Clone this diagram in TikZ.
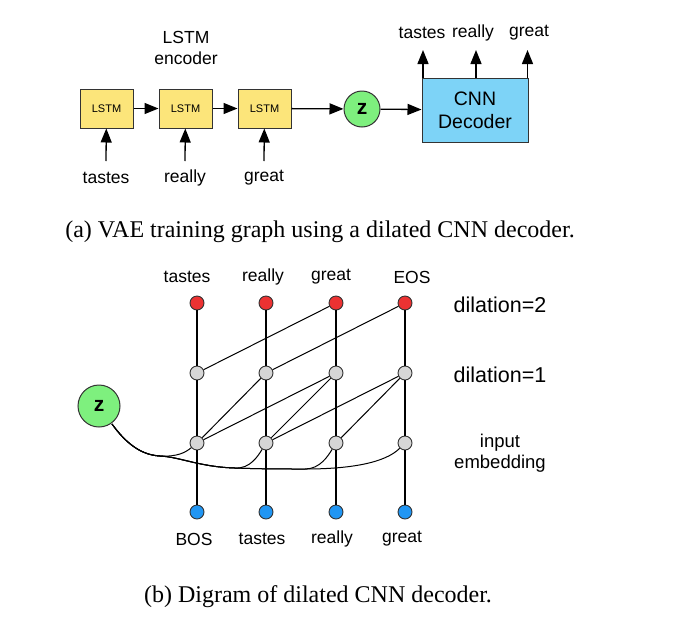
\documentclass[tikz,border=0pt]{standalone}
\usepackage{fontspec}
\setmainfont{Liberation Sans}
\newfontfamily\capfont{Liberation Serif}
\usetikzlibrary{arrows.meta}
\definecolor{lstmyellow}{HTML}{FCE57A}
\definecolor{cnnblue}{HTML}{7DD3F7}
\definecolor{zgreen}{HTML}{7EF07E}
\definecolor{tokred}{HTML}{EC3232}
\definecolor{tokblue}{HTML}{2196F3}
\definecolor{hidgray}{HTML}{D6D6D6}
\begin{document}
\begin{tikzpicture}[x=1pt,y=-1pt,
  lstmbox/.style={draw=black!80,line width=1pt,fill=lstmyellow,minimum width=53pt,minimum height=39pt,inner sep=0pt,font=\fontsize{11}{12}\selectfont},
  cnnbox/.style={draw=black!80,line width=1pt,fill=cnnblue,minimum width=106pt,minimum height=64pt,inner sep=0pt,align=center,font=\fontsize{19.5}{23}\selectfont},
  zcirc/.style={circle,draw=black!80,line width=1pt,fill=zgreen,inner sep=0pt,font=\fontsize{21}{22}\selectfont\bfseries},
  word/.style={inner sep=0pt,font=\fontsize{17.5}{20}\selectfont},
  redtok/.style={circle,draw=black!80,line width=0.9pt,fill=tokred,minimum size=14pt,inner sep=0pt},
  bluetok/.style={circle,draw=black!80,line width=0.9pt,fill=tokblue,minimum size=14pt,inner sep=0pt},
  hidnode/.style={circle,draw=black!80,line width=0.9pt,fill=hidgray,minimum size=14pt,inner sep=0pt},
  arr/.style={-{Triangle[length=14pt,width=11pt]},line width=1.3pt},
  col/.style={line width=1.7pt},
  thin/.style={line width=1pt},
  caption/.style={inner sep=0pt,font=\capfont\fontsize{24}{28}\selectfont}]
\useasboundingbox (0,0) rectangle (676,624);
% ---- (a) ----
\node[word,align=center,font=\fontsize{17.5}{21}\selectfont] (enc) at (186,48) {LSTM\\encoder};
\node[lstmbox] (l1) at (106.5,108.5) {LSTM};
\node[lstmbox] (l2) at (185.5,108.5) {LSTM};
\node[lstmbox] (l3) at (264.5,108.5) {LSTM};
\node[zcirc,minimum size=36pt] (za) at (362,109) {z};
\node[cnnbox] (cnn) at (475,110) {CNN\\Decoder};
\node[word] (i1) at (106,178) {tastes};
\node[word] (i2) at (185,178) {really};
\node[word] (i3) at (264,178) {great};
\coordinate (i1t) at (106,161);
\coordinate (i2t) at (185,161);
\coordinate (i3t) at (264,161);
\draw[arr] (i1t) -- (l1);
\draw[arr] (i2t) -- (l2);
\draw[arr] (i3t) -- (l3);
\draw[arr] (l1) -- (l2);
\draw[arr] (l2) -- (l3);
\draw[arr] (l3) -- (za);
\draw[arr] (za) -- (cnn);
\node[word] (o1) at (422,33) {tastes};
\node[word] (o2) at (473,33) {really};
\node[word] (o3) at (529,33) {great};
\coordinate (c1) at (423,78);
\coordinate (c2) at (476,78);
\coordinate (c3) at (527.5,78);
\coordinate (e1) at (423,50);
\coordinate (e2) at (476,50);
\coordinate (e3) at (527.5,50);
\draw[arr] (c1) -- (e1);
\draw[arr] (c2) -- (e2);
\draw[arr] (c3) -- (e3);
\node[caption] (capa) at (320,232) {(a) VAE training graph using a dilated CNN decoder.};
% ---- (b) ----
\foreach \i/\x in {1/197,2/266,3/336,4/405}{
  \node[redtok] (r\i) at (\x,303) {};
  \node[hidnode] (h\i) at (\x,373) {};
  \node[hidnode] (g\i) at (\x,443) {};
  \node[bluetok] (b\i) at (\x,512) {};
}
\foreach \i in {1,...,4}{
  \draw[col] (r\i) -- (h\i);
  \draw[col] (h\i) -- (g\i);
  \draw[col] (g\i) -- (b\i);
}
\draw[thin] (r3) -- (h1);
\draw[thin] (r4) -- (h2);
\draw[thin] (h2) -- (g1);
\draw[thin] (h3) -- (g1);
\draw[thin] (h3) -- (g2);
\draw[thin] (h4) -- (g2);
\draw[thin] (h4) -- (g3);
\node[zcirc,minimum size=42pt] (zb) at (99,406) {z};
\coordinate (zs) at (112,424);
\coordinate (p1) at (160,456);
\coordinate (p2) at (235,468);
\coordinate (p3) at (305,469);
\draw[thin] (zs) .. controls (125,442) and (140,455) .. (p1)
  .. controls (178,457) and (186,452) .. (g1);
\draw[thin] (zs) .. controls (125,442) and (140,455) .. (p1)
  .. controls (180,457) and (200,467) .. (p2)
  .. controls (250,469) and (258,456) .. (g2);
\draw[thin] (zs) .. controls (125,442) and (140,455) .. (p1)
  .. controls (180,457) and (200,467) .. (p2)
  .. controls (260,469) and (285,469) .. (p3)
  .. controls (320,469) and (328,456) .. (g3);
\draw[thin] (zs) .. controls (125,442) and (140,455) .. (p1)
  .. controls (180,457) and (200,467) .. (p2)
  .. controls (260,469) and (285,469) .. (p3)
  .. controls (350,469) and (385,463) .. (g4);
\node[word] (t1) at (187,277) {tastes};
\node[word] (t2) at (263,277) {really};
\node[word] (t3) at (331,277) {great};
\node[word] (t4) at (412,277) {EOS};
\node[word] (bt1) at (194,539) {BOS};
\node[word] (bt2) at (262,539) {tastes};
\node[word] (bt3) at (332,539) {really};
\node[word] (bt4) at (402,539) {great};
\node[word,font=\fontsize{21.5}{24}\selectfont] (d2) at (500,305) {dilation=2};
\node[word,font=\fontsize{21.5}{24}\selectfont] (d1) at (500,375) {dilation=1};
\node[word,align=center,font=\fontsize{18.5}{21}\selectfont] (ie) at (500,453) {input\\embedding};
\node[caption] (capb) at (318,597) {(b) Digram of dilated CNN decoder.};
\end{tikzpicture}
\end{document}
